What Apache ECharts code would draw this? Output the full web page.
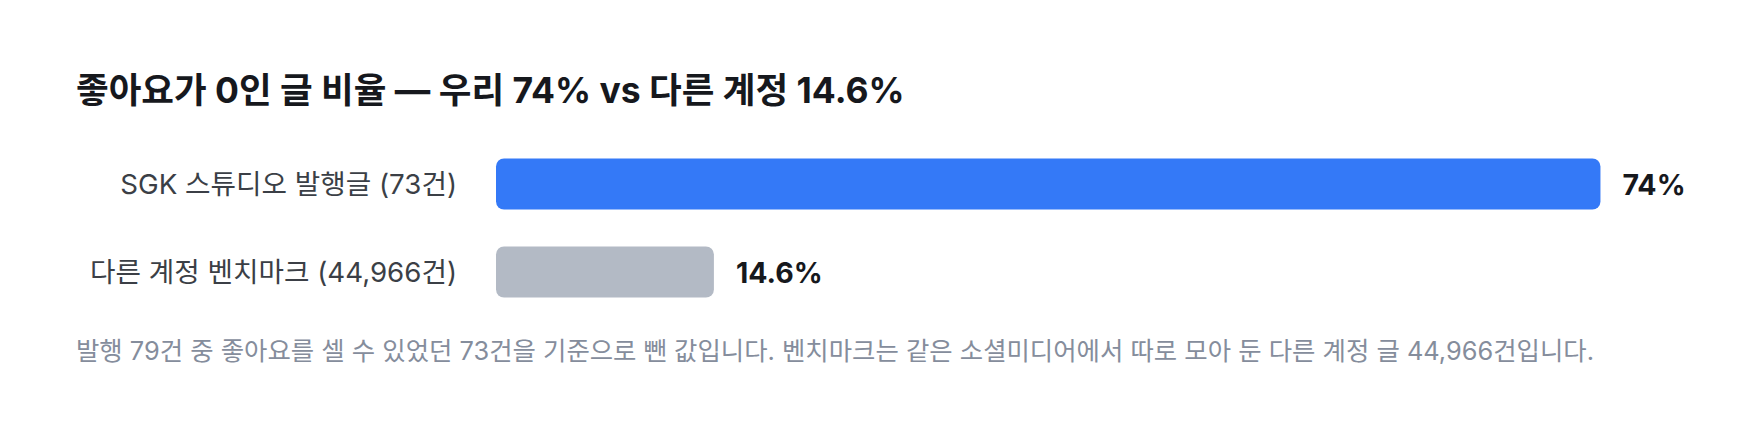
<!DOCTYPE html>
<html>
<head>
<meta charset="utf-8">
<script src="https://cdn.jsdelivr.net/npm/echarts@6/dist/echarts.min.js"></script>
<style>
  html, body { margin: 0; padding: 0; background: #fff; }
  #chart { width: 1760px; height: 432px; }
</style>
</head>
<body>
<div id="chart"></div>
<script>
const categories = ['SGK 스튜디오 발행글 (73건)', '다른 계정 벤치마크 (44,966건)'];
const zeroLikeShare = [74, 14.6];
const barColors = ['#3479f7', '#b3bac5'];
const titleText = '좋아요가 0인 글 비율 — 우리 74% vs 다른 계정 14.6%';
const noteText = '발행 79건 중 좋아요를 셀 수 있었던 73건을 기준으로 뺀 값입니다. 벤치마크는 같은 소셜미디어에서 따로 모아 둔 다른 계정 글 44,966건입니다.';

const FONT = "Inter, 'Noto Sans CJK KR', sans-serif";

function drawChart() {
    const myChart = echarts.init(document.getElementById('chart'), null, {
        renderer: 'svg'
    });
    const option = {
        animation: false,
        title: {
            text: titleText,
            left: 76,
            top: 70,
            padding: 0,
            textStyle: {
                fontFamily: FONT,
                fontSize: 35.5,
                fontWeight: 'bold',
                color: '#16181d',
                lineHeight: 40
            }
        },
        grid: {
            left: 496,
            right: 70,
            top: 140,
            height: 176
        },
        xAxis: {
            type: 'value',
            min: 0,
            max: 80,
            show: false
        },
        yAxis: {
            type: 'category',
            inverse: true,
            data: categories,
            axisLine: { show: false },
            axisTick: { show: false },
            axisLabel: {
                margin: 39,
                fontFamily: FONT,
                fontSize: 27.7,
                color: '#3b3f46'
            }
        },
        series: [{
            type: 'bar',
            barWidth: 51,
            data: zeroLikeShare.map((v, i) => ({
                value: v,
                itemStyle: { color: barColors[i], borderRadius: 8 }
            })),
            label: {
                show: true,
                position: 'right',
                distance: 22,
                formatter: p => p.value + '%',
                fontFamily: FONT,
                fontSize: 28.5,
                fontWeight: 'bold',
                color: '#16181d'
            }
        }],
        graphic: [{
            type: 'text',
            left: 76,
            top: 338,
            style: {
                text: noteText,
                font: '25.4px ' + FONT,
                fill: '#858d9c'
            }
        }]
    };
    myChart.setOption(option);
}

drawChart();
</script>
</body>
</html>
